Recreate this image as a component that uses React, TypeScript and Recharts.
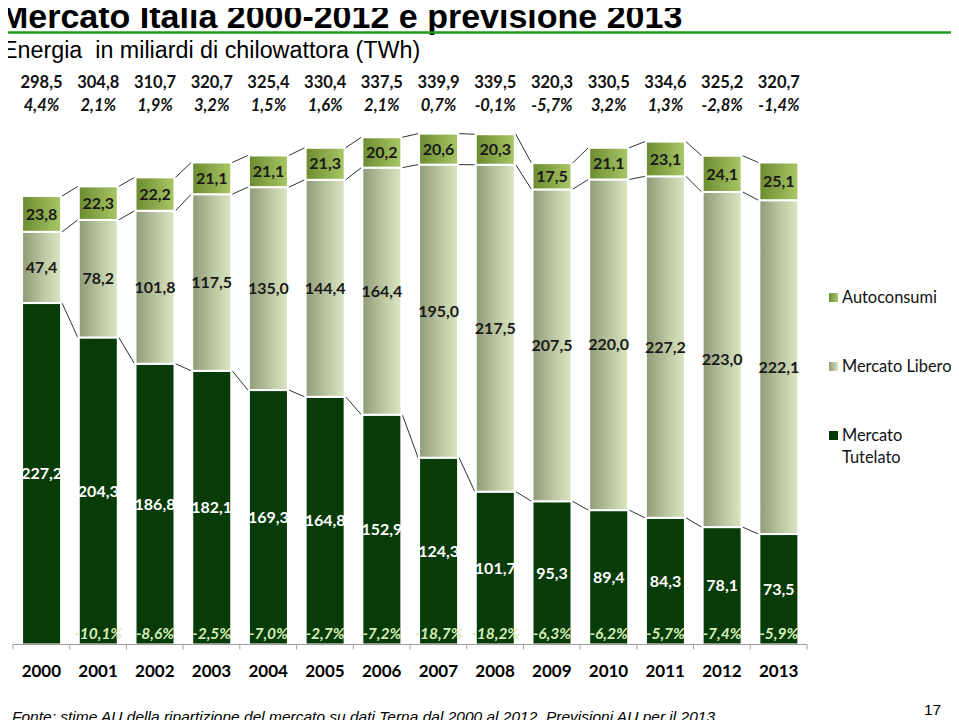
import React from "react";
import { BarChart, Bar, XAxis, YAxis, LabelList, Legend } from "recharts";

const years = ["2000", "2001", "2002", "2003", "2004", "2005", "2006", "2007", "2008", "2009", "2010", "2011", "2012", "2013"];
const tutelato = [227.2, 204.3, 186.8, 182.1, 169.3, 164.8, 152.9, 124.3, 101.7, 95.3, 89.4, 84.3, 78.1, 73.5];
const libero = [47.4, 78.2, 101.8, 117.5, 135.0, 144.4, 164.4, 195.0, 217.5, 207.5, 220.0, 227.2, 223.0, 222.1];
const autoconsumi = [23.8, 22.3, 22.2, 21.1, 21.1, 21.3, 20.2, 20.6, 20.3, 17.5, 21.1, 23.1, 24.1, 25.1];
const totals = [298.5, 304.8, 310.7, 320.7, 325.4, 330.4, 337.5, 339.9, 339.5, 320.3, 330.5, 334.6, 325.2, 320.7];
const totalGrowth = ["4,4%", "2,1%", "1,9%", "3,2%", "1,5%", "1,6%", "2,1%", "0,7%", "-0,1%", "-5,7%", "3,2%", "1,3%", "-2,8%", "-1,4%"];
const tutelatoGrowth = ["", "-10,1%", "-8,6%", "-2,5%", "-7,0%", "-2,7%", "-7,2%", "-18,7%", "-18,2%", "-6,3%", "-6,2%", "-5,7%", "-7,4%", "-5,9%"];

const data = years.map((year, i) => ({
  year,
  tutelato: tutelato[i],
  libero: libero[i],
  autoconsumi: autoconsumi[i],
  total: totals[i],
  tutelatoGrowth: tutelatoGrowth[i],
}));

const W = 959;
const H = 728;
const MARGIN = { top: 133.5, right: 152, bottom: 43.5, left: 13 };
const BAND = (W - MARGIN.left - MARGIN.right) / years.length;
const FONT = "Lato, 'Open Sans', sans-serif";
const ARIAL = "'Liberation Sans', Arial, sans-serif";
const stackKeys = ["tutelato", "libero", "autoconsumi"];

const fmt = (v: number) => v.toFixed(1).replace(".", ",");

// top of a stacked segment, counted from zero
const cumTop = (row: any, key: string) => {
  let s = 0;
  for (const k of stackKeys) {
    s += row[k];
    if (k === key) break;
  }
  return s;
};

// bar segment + excel style "series line" to the next bar
const segmentShape = (key: string, fill: string) => (props: any) => {
  const { x, y, width, height, index, payload } = props;
  let line = null;
  if (index < data.length - 1 && payload[key] > 0) {
    const ppu = height / payload[key];
    const base = y + cumTop(payload, key) * ppu;
    const nextTop = base - cumTop(data[index + 1], key) * ppu;
    line = (
      <line x1={x + width + 1} y1={y} x2={x + BAND - 1} y2={nextTop} stroke="#333" strokeWidth={1} />
    );
  }
  return (
    <g>
      <rect x={x} y={y} width={width} height={height} fill={fill} stroke="#fff" strokeWidth={2} />
      {line}
    </g>
  );
};

const YearTick = (props: any) => {
  const { x, y, payload, index } = props;
  const left = x - BAND / 2;
  return (
    <g>
      <line x1={left} y1={y - 8} x2={left} y2={y - 3} stroke="#a0a0a0" />
      {index === years.length - 1 && (
        <line x1={left + BAND} y1={y - 8} x2={left + BAND} y2={y - 3} stroke="#a0a0a0" />
      )}
      <text x={x} y={677} textAnchor="middle" fontFamily={FONT} fontWeight={700} fontSize={17} fill="#000">
        {payload.value}
      </text>
    </g>
  );
};

const TotalsLabel = (props: any) => {
  const { x, width, value, index } = props;
  const cx = x + width / 2;
  return (
    <g fontFamily={FONT} fontWeight={700} fontSize={16.5} fill="#111" textAnchor="middle">
      <text x={cx} y={82} dominantBaseline="central">{fmt(value)}</text>
      <text x={cx} y={105} dominantBaseline="central" fontStyle="italic">{totalGrowth[index]}</text>
    </g>
  );
};

const GrowthLabel = (props: any) => {
  const { x, y, width, height, value } = props;
  if (!value) return null;
  return (
    <text
      x={x + width / 2}
      y={y + height - 11.5}
      dominantBaseline="central"
      textAnchor="middle"
      fontFamily={FONT}
      fontWeight={700}
      fontStyle="italic"
      fontSize={15.5}
      fill="#d6eeb6"
    >
      {value}
    </text>
  );
};

const legendItems = [
  { label: ["Autoconsumi"], bg: "linear-gradient(to right, #6b8b30, #a9c765)", top: 0 },
  { label: ["Mercato Libero"], bg: "linear-gradient(to right, #8f9a78, #dbe5c3)", top: 69 },
  { label: ["Mercato", "Tutelato"], bg: "#073b07", top: 138 },
];

const CustomLegend = () => (
  <div style={{ position: "relative", width: 133, height: 190, fontFamily: FONT, fontSize: 16.4, color: "#111" }}>
    {legendItems.map((item) => (
      <div key={item.label.join(" ")} style={{ position: "absolute", left: 0, top: item.top }}>
        <div style={{ position: "absolute", left: 3, top: 7, width: 9, height: 9, background: item.bg }} />
        <div style={{ position: "absolute", left: 16, top: 0, lineHeight: "22px", whiteSpace: "nowrap" }}>
          {item.label.map((l) => (
            <div key={l}>{l}</div>
          ))}
        </div>
      </div>
    ))}
  </div>
);

export default function App() {
  return (
    <div style={{ position: "relative", width: W, height: H, margin: -8, background: "#fff", overflow: "hidden" }}>
      <BarChart width={W} height={H} data={data} margin={MARGIN} barCategoryGap="16%">
        <defs>
          <linearGradient id="gLibero" x1="0" y1="0" x2="1" y2="0">
            <stop offset="0%" stopColor="#8f9a78" />
            <stop offset="55%" stopColor="#bcc8a2" />
            <stop offset="100%" stopColor="#dbe5c3" />
          </linearGradient>
          <linearGradient id="gAuto" x1="0" y1="0" x2="1" y2="0">
            <stop offset="0%" stopColor="#6b8b30" />
            <stop offset="100%" stopColor="#a9c765" />
          </linearGradient>
        </defs>
        <XAxis
          dataKey="year"
          height={40}
          axisLine={{ stroke: "#a0a0a0" }}
          tickLine={false}
          tickSize={8}
          tickMargin={0}
          tick={<YearTick />}
          interval={0}
        />
        <YAxis hide domain={[0, 340]} />
        <Legend
          layout="horizontal"
          verticalAlign="middle"
          align="center"
          content={<CustomLegend />}
          wrapperStyle={{ left: 826, top: 286, width: 133 }}
        />
        <Bar dataKey="tutelato" stackId="a" fill="#073b07" isAnimationActive={false} shape={segmentShape("tutelato", "#073b07")}>
          <LabelList dataKey="tutelato" position="center" formatter={(v: any) => fmt(v)} fill="#fff" fontFamily={FONT} fontWeight={700} fontSize={16} />
          <LabelList dataKey="tutelatoGrowth" content={<GrowthLabel />} />
        </Bar>
        <Bar dataKey="libero" stackId="a" fill="url(#gLibero)" isAnimationActive={false} shape={segmentShape("libero", "url(#gLibero)")}>
          <LabelList dataKey="libero" position="center" formatter={(v: any) => fmt(v)} fill="#1a1a1a" fontFamily={FONT} fontWeight={700} fontSize={16} />
        </Bar>
        <Bar dataKey="autoconsumi" stackId="a" fill="url(#gAuto)" isAnimationActive={false} shape={segmentShape("autoconsumi", "url(#gAuto)")}>
          <LabelList dataKey="autoconsumi" position="center" formatter={(v: any) => fmt(v)} fill="#1a1a1a" fontFamily={FONT} fontWeight={700} fontSize={16} />
          <LabelList dataKey="total" content={<TotalsLabel />} />
        </Bar>
      </BarChart>
      <svg width={W} height={H} style={{ position: "absolute", left: 0, top: 0, pointerEvents: "none" }}>
        <text x={0} y={28} fontFamily={ARIAL} fontWeight={700} fontSize={34} fill="#000">
          Mercato Italia 2000-2012 e previsione 2013
        </text>
        <line x1={0} y1={32.5} x2={954} y2={32.5} stroke="#1f9a1f" strokeWidth={2.5} />
        <text x={2} y={58} fontFamily={ARIAL} fontSize={23.3} fill="#000" xmlSpace="preserve">
          Energia  in miliardi di chilowattora (TWh)
        </text>
        <text x={12} y={722} fontFamily={ARIAL} fontStyle="italic" fontSize={15.5} fill="#000">
          Fonte: stime AU della ripartizione del mercato su dati Terna dal 2000 al 2012. Previsioni AU per il 2013
        </text>
        <text x={924} y={715} fontFamily={ARIAL} fontSize={15.5} fill="#000">
          17
        </text>
      </svg>
    </div>
  );
}
